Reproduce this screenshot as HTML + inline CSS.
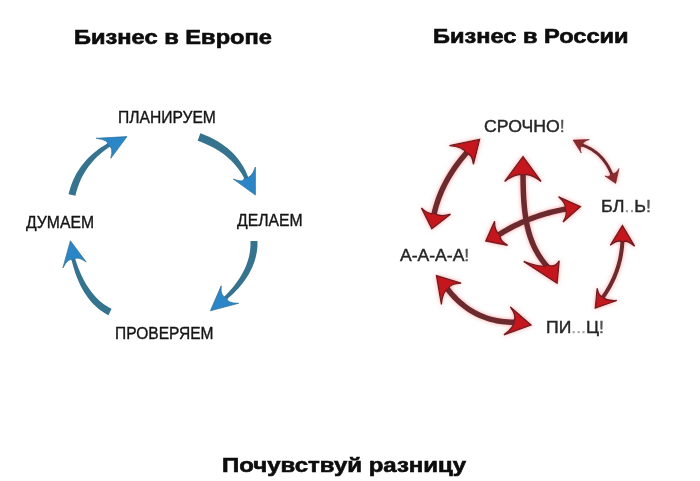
<!DOCTYPE html>
<html><head><meta charset="utf-8"><style>
html,body{margin:0;padding:0;background:#fff;}
body{width:700px;height:481px;position:relative;overflow:hidden;font-family:"Liberation Sans",sans-serif;}
.t{position:absolute;white-space:nowrap;line-height:1;transform-origin:0 0;}
svg{position:absolute;left:0;top:0;}
.bs{fill:#34738f;}
.bh{fill:#2a86c6;stroke:#2f6f90;stroke-width:0.7;}
.rs{fill:#6b2a2e;}
.rh{fill:#c4181e;stroke:#6e1d22;stroke-width:1.3;stroke-linejoin:miter;}
.rhs{fill:#8a2a2e;stroke:#6a2228;stroke-width:0.6;}
</style></head><body>
<svg width="700" height="481" viewBox="0 0 700 481">
<defs><filter id="blur" x="-10%" y="-10%" width="120%" height="120%"><feGaussianBlur stdDeviation="0.7"/></filter>
<filter id="glow" x="-10%" y="-10%" width="120%" height="120%"><feGaussianBlur in="SourceGraphic" stdDeviation="2.2" result="g"/><feColorMatrix in="g" type="matrix" values="0 0 0 0 0.85  0 0 0 0 0.1  0 0 0 0 0.1  0 0 0 0.55 0" result="gc"/><feGaussianBlur in="SourceGraphic" stdDeviation="0.7" result="s"/><feMerge><feMergeNode in="gc"/><feMergeNode in="s"/></feMerge></filter></defs>
<g filter="url(#blur)"><path class="bs" d="M75.42 195.76 L76.05 193.09 L76.77 190.47 L77.56 187.90 L78.43 185.38 L79.38 182.91 L80.42 180.48 L81.53 178.10 L82.73 175.77 L84.01 173.47 L85.38 171.22 L86.83 169.01 L88.36 166.84 L89.99 164.72 L91.70 162.63 L93.50 160.59 L95.39 158.58 L97.37 156.62 L99.45 154.69 L101.62 152.81 L103.88 150.96 L106.23 149.16 L108.68 147.40 L111.22 145.68 L113.86 144.01 L112.14 140.95 L109.29 142.46 L106.52 144.03 L103.83 145.65 L101.24 147.35 L98.72 149.10 L96.30 150.92 L93.97 152.80 L91.72 154.74 L89.56 156.75 L87.50 158.82 L85.52 160.96 L83.64 163.16 L81.85 165.42 L80.15 167.74 L78.55 170.13 L77.05 172.57 L75.64 175.08 L74.33 177.65 L73.12 180.27 L72.01 182.95 L71.00 185.69 L70.10 188.49 L69.29 191.34 L68.58 194.24Z"/>
<path class="bh" d="M127.00 136.60 L96.20 138.30 Q108.89 140.06 107.50 144.50 Q114.15 147.26 110.80 158.30 Z"/>
<path class="bs" d="M197.66 140.77 L200.63 141.86 L203.52 143.01 L206.32 144.21 L209.03 145.46 L211.65 146.76 L214.19 148.12 L216.65 149.54 L219.03 151.01 L221.32 152.54 L223.53 154.12 L225.67 155.76 L227.72 157.46 L229.70 159.23 L231.60 161.05 L233.43 162.94 L235.18 164.89 L236.85 166.91 L238.45 168.99 L239.98 171.15 L241.43 173.37 L242.80 175.67 L244.10 178.04 L245.33 180.48 L246.48 183.00 L249.76 181.80 L248.88 179.04 L247.89 176.32 L246.79 173.67 L245.59 171.07 L244.29 168.54 L242.89 166.06 L241.38 163.64 L239.76 161.29 L238.05 159.00 L236.23 156.78 L234.30 154.62 L232.28 152.54 L230.15 150.52 L227.92 148.58 L225.59 146.70 L223.17 144.90 L220.64 143.18 L218.03 141.53 L215.31 139.95 L212.50 138.45 L209.60 137.03 L206.60 135.68 L203.52 134.42 L200.34 133.23Z"/>
<path class="bh" d="M255.40 195.00 L233.30 179.10 Q243.52 183.16 244.50 178.00 Q251.48 178.84 255.40 167.10 Z"/>
<path class="bs" d="M250.50 241.11 L250.53 243.61 L250.46 246.09 L250.28 248.57 L249.99 251.03 L249.61 253.49 L249.11 255.94 L248.51 258.39 L247.80 260.83 L246.98 263.28 L246.05 265.72 L245.01 268.15 L243.85 270.59 L242.59 273.03 L241.20 275.47 L239.70 277.91 L238.09 280.35 L236.35 282.78 L234.50 285.22 L232.53 287.66 L230.44 290.09 L228.23 292.53 L225.90 294.96 L223.45 297.39 L220.88 299.81 L223.16 302.47 L225.96 300.18 L228.66 297.87 L231.23 295.53 L233.69 293.17 L236.04 290.79 L238.26 288.38 L240.37 285.95 L242.37 283.49 L244.24 281.01 L246.00 278.50 L247.63 275.97 L249.15 273.41 L250.54 270.82 L251.81 268.21 L252.95 265.57 L253.97 262.91 L254.87 260.23 L255.63 257.52 L256.27 254.79 L256.78 252.05 L257.16 249.28 L257.40 246.50 L257.52 243.70 L257.50 240.89Z"/>
<path class="bh" d="M210.40 310.80 L221.20 285.80 Q220.12 297.01 226.60 297.50 Q226.42 303.31 238.70 303.30 Z"/>
<path class="bs" d="M111.56 308.87 L109.47 307.77 L107.43 306.59 L105.44 305.31 L103.49 303.94 L101.59 302.47 L99.74 300.90 L97.92 299.24 L96.15 297.47 L94.42 295.60 L92.74 293.62 L91.10 291.54 L89.50 289.35 L87.95 287.05 L86.44 284.64 L84.97 282.13 L83.55 279.50 L82.18 276.77 L80.86 273.92 L79.58 270.96 L78.35 267.90 L77.17 264.72 L76.04 261.43 L74.95 258.03 L73.92 254.52 L70.52 255.36 L71.32 259.01 L72.19 262.56 L73.12 266.01 L74.12 269.37 L75.18 272.63 L76.31 275.78 L77.50 278.84 L78.77 281.81 L80.10 284.67 L81.50 287.43 L82.96 290.09 L84.50 292.65 L86.11 295.12 L87.79 297.47 L89.54 299.73 L91.36 301.88 L93.25 303.92 L95.21 305.86 L97.24 307.69 L99.35 309.41 L101.52 311.01 L103.76 312.50 L106.07 313.88 L108.44 315.13Z"/>
<path class="bh" d="M70.40 240.80 L62.90 267.90 Q68.46 257.47 72.50 260.00 Q76.84 255.34 86.20 262.00 Z"/></g>
<g filter="url(#glow)"><path class="rs" d="M468.07 147.04 L465.60 149.73 L463.20 152.45 L460.87 155.18 L458.63 157.94 L456.47 160.71 L454.39 163.51 L452.39 166.32 L450.46 169.16 L448.62 172.02 L446.86 174.89 L445.18 177.79 L443.57 180.70 L442.05 183.64 L440.61 186.60 L439.25 189.57 L437.97 192.57 L436.77 195.58 L435.65 198.62 L434.61 201.67 L433.66 204.75 L432.78 207.84 L431.98 210.95 L431.27 214.08 L430.64 217.23 L436.04 218.25 L436.65 215.24 L437.33 212.24 L438.09 209.27 L438.93 206.31 L439.84 203.38 L440.83 200.46 L441.91 197.55 L443.05 194.67 L444.28 191.80 L445.58 188.95 L446.97 186.11 L448.43 183.30 L449.96 180.49 L451.58 177.71 L453.28 174.94 L455.05 172.20 L456.90 169.46 L458.84 166.75 L460.85 164.05 L462.94 161.36 L465.10 158.70 L467.35 156.05 L469.68 153.42 L472.09 150.80Z"/>
<path class="rs" d="M579.57 145.66 L581.48 146.30 L583.33 147.00 L585.12 147.76 L586.87 148.57 L588.56 149.44 L590.20 150.36 L591.79 151.34 L593.32 152.38 L594.80 153.47 L596.24 154.61 L597.62 155.81 L598.95 157.07 L600.23 158.38 L601.46 159.75 L602.64 161.18 L603.77 162.66 L604.84 164.20 L605.87 165.80 L606.85 167.46 L607.78 169.18 L608.66 170.95 L609.49 172.78 L610.27 174.67 L611.00 176.62 L613.82 175.62 L613.06 173.58 L612.24 171.59 L611.37 169.67 L610.45 167.80 L609.46 165.98 L608.43 164.23 L607.33 162.53 L606.19 160.89 L604.99 159.32 L603.73 157.79 L602.42 156.33 L601.05 154.93 L599.63 153.59 L598.16 152.31 L596.63 151.08 L595.05 149.92 L593.41 148.82 L591.72 147.78 L589.98 146.80 L588.19 145.88 L586.34 145.02 L584.44 144.22 L582.49 143.48 L580.49 142.80Z"/>
<path class="rs" d="M520.25 169.48 L520.26 173.99 L520.30 178.41 L520.36 182.73 L520.46 186.96 L520.59 191.10 L520.76 195.15 L520.98 199.12 L521.25 203.00 L521.58 206.81 L521.96 210.54 L522.41 214.19 L522.92 217.78 L523.51 221.29 L524.17 224.74 L524.91 228.12 L525.74 231.44 L526.66 234.70 L527.68 237.90 L528.79 241.04 L530.01 244.13 L531.33 247.17 L532.77 250.15 L534.32 253.09 L536.00 255.98 L537.79 258.82 L539.72 261.61 L541.77 264.36 L543.96 267.07 L546.29 269.74 L548.76 272.38 L552.70 268.54 L550.37 266.05 L548.17 263.54 L546.12 260.99 L544.19 258.41 L542.38 255.79 L540.70 253.13 L539.14 250.42 L537.68 247.68 L536.33 244.88 L535.09 242.03 L533.94 239.12 L532.89 236.15 L531.93 233.12 L531.06 230.03 L530.27 226.86 L529.56 223.63 L528.92 220.32 L528.36 216.94 L527.86 213.47 L527.43 209.93 L527.05 206.30 L526.74 202.58 L526.47 198.78 L526.26 194.88 L526.08 190.89 L525.95 186.81 L525.86 182.63 L525.80 178.35 L525.76 173.97 L525.75 169.48Z"/>
<path class="rs" d="M569.16 205.60 L565.61 206.22 L562.10 206.90 L558.63 207.63 L555.19 208.41 L551.79 209.23 L548.42 210.11 L545.10 211.04 L541.80 212.02 L538.55 213.05 L535.33 214.13 L532.15 215.25 L529.01 216.43 L525.90 217.66 L522.84 218.94 L519.80 220.28 L516.81 221.66 L513.85 223.09 L510.93 224.57 L508.05 226.10 L505.20 227.69 L502.40 229.32 L499.63 231.00 L496.89 232.74 L494.20 234.52 L497.28 239.08 L499.89 237.35 L502.53 235.68 L505.21 234.05 L507.92 232.47 L510.68 230.94 L513.47 229.45 L516.30 228.02 L519.16 226.63 L522.06 225.29 L525.00 224.00 L527.98 222.76 L530.99 221.57 L534.04 220.42 L537.13 219.32 L540.25 218.28 L543.42 217.28 L546.62 216.32 L549.86 215.42 L553.13 214.57 L556.45 213.76 L559.80 213.00 L563.19 212.29 L566.61 211.63 L570.08 211.02Z"/>
<path class="rs" d="M620.47 237.08 L620.43 239.87 L620.31 242.64 L620.13 245.39 L619.86 248.13 L619.53 250.84 L619.12 253.54 L618.63 256.22 L618.08 258.88 L617.45 261.52 L616.74 264.15 L615.96 266.76 L615.11 269.35 L614.18 271.92 L613.18 274.48 L612.11 277.02 L610.96 279.54 L609.74 282.04 L608.44 284.53 L607.07 287.00 L605.62 289.45 L604.10 291.89 L602.50 294.31 L600.83 296.71 L599.09 299.10 L602.29 301.50 L604.09 299.04 L605.82 296.55 L607.47 294.05 L609.04 291.53 L610.54 288.99 L611.96 286.43 L613.31 283.84 L614.58 281.24 L615.77 278.63 L616.89 275.99 L617.93 273.33 L618.89 270.65 L619.78 267.96 L620.59 265.24 L621.32 262.51 L621.98 259.75 L622.56 256.98 L623.06 254.20 L623.49 251.39 L623.84 248.56 L624.11 245.72 L624.31 242.86 L624.43 239.98 L624.47 237.08Z"/>
<path class="rs" d="M442.30 286.59 L444.69 289.88 L447.16 293.02 L449.69 296.02 L452.30 298.88 L454.98 301.59 L457.74 304.15 L460.56 306.57 L463.46 308.85 L466.43 310.97 L469.47 312.95 L472.59 314.78 L475.77 316.46 L479.03 317.99 L482.35 319.37 L485.74 320.60 L489.20 321.69 L492.73 322.62 L496.32 323.40 L499.98 324.03 L503.70 324.51 L507.49 324.84 L511.34 325.03 L515.25 325.06 L519.23 324.95 L518.97 319.45 L515.20 319.56 L511.49 319.53 L507.86 319.36 L504.29 319.04 L500.80 318.59 L497.37 318.00 L494.01 317.27 L490.72 316.40 L487.50 315.39 L484.34 314.25 L481.25 312.96 L478.23 311.54 L475.27 309.98 L472.37 308.27 L469.53 306.43 L466.76 304.45 L464.05 302.32 L461.40 300.05 L458.81 297.64 L456.29 295.09 L453.82 292.39 L451.42 289.55 L449.08 286.56 L446.80 283.43Z"/>
<path class="rh" d="M479.60 139.40 L449.50 145.60 Q463.43 146.73 466.00 153.00 Q472.27 153.65 473.40 164.30 Z"/>
<path class="rh" d="M431.80 228.80 L421.40 208.00 Q428.77 215.26 434.00 213.00 Q439.53 217.55 450.50 214.20 Z"/>
<path class="rhs" d="M573.10 140.10 L589.30 139.50 Q581.58 141.82 583.00 146.00 Q578.95 146.21 581.20 153.00 Z"/>
<path class="rhs" d="M615.70 183.40 L619.00 168.50 Q615.25 175.18 611.00 173.00 Q610.66 177.62 604.90 176.00 Z"/>
<path class="rh" d="M523.00 156.60 L504.70 181.40 Q516.23 172.58 523.00 175.00 Q529.70 172.58 541.10 181.40 Z"/>
<path class="rh" d="M557.10 283.20 L523.70 261.40 Q541.38 268.40 548.00 265.00 Q554.51 268.18 559.20 260.80 Z"/>
<path class="rh" d="M580.40 206.70 L558.60 196.80 Q566.64 203.89 565.00 209.00 Q568.26 213.25 563.00 222.10 Z"/>
<path class="rh" d="M485.80 241.00 L494.60 221.30 Q494.31 231.49 500.00 235.00 Q499.12 240.41 507.60 245.40 Z"/>
<path class="rh" d="M622.40 225.60 L610.30 245.30 Q617.96 238.96 622.50 242.00 Q626.95 239.29 634.60 246.20 Z"/>
<path class="rh" d="M595.30 308.00 L597.20 288.30 Q598.85 296.64 603.00 297.00 Q606.10 301.15 616.80 300.50 Z"/>
<path class="rh" d="M436.50 275.70 L461.10 283.10 Q449.86 283.36 448.00 289.00 Q442.57 291.24 441.40 304.40 Z"/>
<path class="rh" d="M531.00 325.00 L510.40 306.90 Q517.09 316.82 514.00 321.00 Q514.68 327.15 503.90 334.80 Z"/></g>
</svg>
<div class="t" style="left:73.82px;top:27.30px;font-weight:bold;font-size:20px;color:#0d0d0d;-webkit-text-stroke:0.6px #0d0d0d;transform:scaleX(1.1831)">Бизнес в Европе</div>
<div class="t" style="left:433.22px;top:26.20px;font-weight:bold;font-size:20px;color:#0d0d0d;-webkit-text-stroke:0.6px #0d0d0d;transform:scaleX(1.1805)">Бизнес в России</div>
<div class="t" style="left:221.80px;top:455.00px;font-weight:bold;font-size:20px;color:#0d0d0d;-webkit-text-stroke:0.6px #0d0d0d;transform:scaleX(1.1990)">Почувствуй разницу</div>
<div class="t" style="left:118.32px;top:110.30px;font-weight:normal;font-size:16px;color:#151515;-webkit-text-stroke:0.35px #151515;transform:scaleX(0.9765)">ПЛАНИРУЕМ</div>
<div class="t" style="left:25.70px;top:215.10px;font-weight:normal;font-size:16px;color:#151515;-webkit-text-stroke:0.35px #151515;transform:scaleX(0.9838)">ДУМАЕМ</div>
<div class="t" style="left:237.10px;top:213.40px;font-weight:normal;font-size:16px;color:#151515;-webkit-text-stroke:0.35px #151515;transform:scaleX(0.9833)">ДЕЛАЕМ</div>
<div class="t" style="left:114.63px;top:325.50px;font-weight:normal;font-size:16px;color:#151515;-webkit-text-stroke:0.35px #151515;transform:scaleX(0.9710)">ПРОВЕРЯЕМ</div>
<div class="t" style="left:483.90px;top:119.00px;font-weight:normal;font-size:16px;color:#262626;-webkit-text-stroke:0.4px #262626;transform:scaleX(1.1042)">СРОЧНО<span style="color:#555;-webkit-text-stroke-color:#555">!</span></div>
<div class="t" style="left:600.88px;top:198.70px;font-weight:normal;font-size:16px;color:#262626;-webkit-text-stroke:0.4px #262626;transform:scaleX(1.1163)">БЛ<span style="color:#999;-webkit-text-stroke-color:#999">..</span>Ь<span style="color:#555;-webkit-text-stroke-color:#555">!</span></div>
<div class="t" style="left:400.00px;top:247.90px;font-weight:normal;font-size:16px;color:#262626;-webkit-text-stroke:0.4px #262626;transform:scaleX(1.0968)">А-А-А-А<span style="color:#555;-webkit-text-stroke-color:#555">!</span></div>
<div class="t" style="left:546.30px;top:319.90px;font-weight:normal;font-size:16px;color:#262626;-webkit-text-stroke:0.4px #262626;transform:scaleX(1.0980)">ПИ<span style="color:#aaa;-webkit-text-stroke-color:#aaa">...</span>Ц<span style="color:#555;-webkit-text-stroke-color:#555">!</span></div>
</body></html>
